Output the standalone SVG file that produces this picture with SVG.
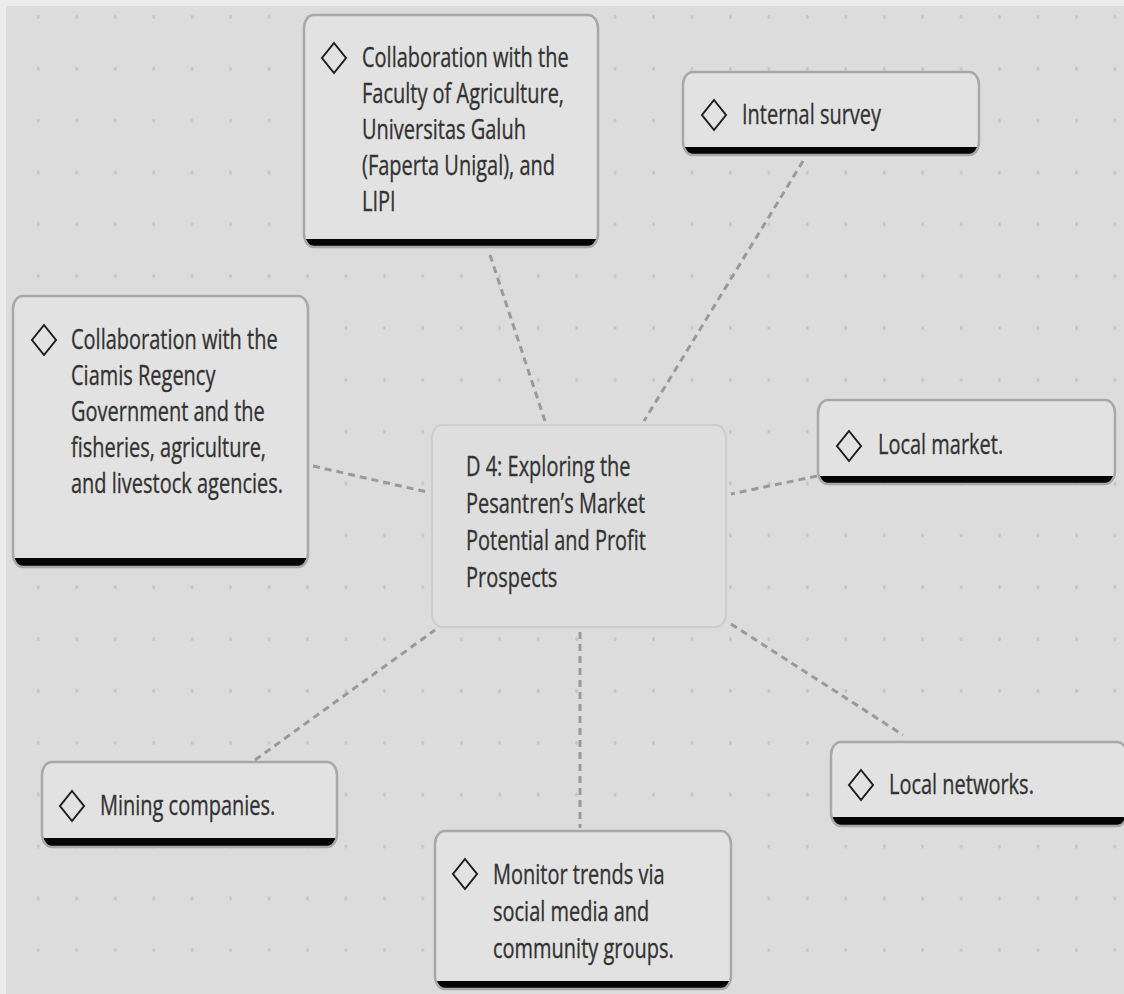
<svg xmlns="http://www.w3.org/2000/svg" xmlns:xlink="http://www.w3.org/1999/xlink" width="1124" height="994" viewBox="0 0 1124 994">
  <style>
    .canvas-edge { fill: #ececec; }
    .canvas { fill: #dcdcdc; }
    .dot { fill: #c3c3c3; }
    .link { stroke: #9a9a9a; stroke-width: 3; stroke-dasharray: 7 5; fill: none; }
    .box-base { fill: #050505; }
    .box-face { fill: #e2e2e2; }
    .box-edge { fill: none; stroke: #a8a8a8; stroke-width: 2.5; }
    .hub-face { fill: #dedede; stroke: #cdcdcd; stroke-width: 2; }
    .mark { fill: none; stroke: #1e1e1e; stroke-width: 2; stroke-linejoin: miter; }
    .label { font-family: "Open Sans", "Noto Sans", "DejaVu Sans", sans-serif; font-size: 27px; fill: #333333; stroke: #333333; stroke-width: 0.35; }
  </style>
  <defs>
    <pattern id="dots" patternUnits="userSpaceOnUse" x="19.1" y="-9" width="38.45" height="51.85">
      <ellipse class="dot" cx="19.22" cy="25.9" rx="1.4" ry="2"/>
    </pattern>
    <polygon id="diamond" class="mark" points="0,-15 12,0 0,15 -12,0"/>
  </defs>

  <!-- canvas -->
  <rect class="canvas-edge" x="0" y="0" width="1124" height="994"/>
  <rect class="canvas" x="6" y="6" width="1118" height="988"/>
  <rect x="6" y="6" width="1118" height="988" fill="url(#dots)"/>

  <!-- connectors -->
  <g id="connectors">
    <line class="link" x1="490" y1="255" x2="545" y2="421"/>
    <line class="link" x1="803" y1="161" x2="644" y2="421"/>
    <line class="link" x1="313" y1="466" x2="427" y2="492"/>
    <line class="link" x1="817" y1="476" x2="731" y2="494"/>
    <line class="link" x1="731" y1="624" x2="903" y2="735"/>
    <line class="link" x1="255" y1="760" x2="435" y2="630"/>
    <line class="link" x1="580" y1="632" x2="580" y2="828"/>
  </g>

  <!-- central topic -->
  <g id="hub">
    <rect class="hub-face" x="432" y="425" width="294" height="202" rx="10" ry="13"/>
    <g transform="translate(466,0) scale(0.74,1)">
      <text class="label">
        <tspan x="0" y="476">D 4: Exploring the</tspan>
        <tspan x="0" y="513">Pesantren’s Market</tspan>
        <tspan x="0" y="550">Potential and Profit</tspan>
        <tspan x="0" y="587">Prospects</tspan>
      </text>
    </g>
  </g>

  <!-- Faculty of Agriculture collaboration -->
  <g id="node-faperta">
    <rect class="box-base" x="304" y="15" width="294" height="232" rx="10" ry="13"/>
    <path class="box-face" d="M304,239 V28 A10,13 0 0 1 314,15 H588 A10,13 0 0 1 598,28 V239 Z"/>
    <rect class="box-edge" x="304" y="15" width="294" height="232" rx="10" ry="13"/>
    <use xlink:href="#diamond" x="334" y="58"/>
    <g transform="translate(362,0) scale(0.74,1)">
      <text class="label">
        <tspan x="0" y="67">Collaboration with the</tspan>
        <tspan x="0" y="103">Faculty of Agriculture,</tspan>
        <tspan x="0" y="139">Universitas Galuh</tspan>
        <tspan x="0" y="175">(Faperta Unigal), and</tspan>
        <tspan x="0" y="211">LIPI</tspan>
      </text>
    </g>
  </g>

  <!-- Internal survey -->
  <g id="node-survey">
    <rect class="box-base" x="683" y="72" width="296" height="83" rx="10" ry="13"/>
    <path class="box-face" d="M683,147 V85 A10,13 0 0 1 693,72 H969 A10,13 0 0 1 979,85 V147 Z"/>
    <rect class="box-edge" x="683" y="72" width="296" height="83" rx="10" ry="13"/>
    <use xlink:href="#diamond" x="714" y="115"/>
    <g transform="translate(742,0) scale(0.74,1)">
      <text class="label"><tspan x="0" y="124">Internal survey</tspan></text>
    </g>
  </g>

  <!-- Regency government collaboration -->
  <g id="node-regency">
    <rect class="box-base" x="13" y="296" width="295" height="271" rx="10" ry="13"/>
    <path class="box-face" d="M13,558 V309 A10,13 0 0 1 23,296 H298 A10,13 0 0 1 308,309 V558 Z"/>
    <rect class="box-edge" x="13" y="296" width="295" height="271" rx="10" ry="13"/>
    <use xlink:href="#diamond" x="44" y="340"/>
    <g transform="translate(71,0) scale(0.74,1)">
      <text class="label">
        <tspan x="0" y="349">Collaboration with the</tspan>
        <tspan x="0" y="385">Ciamis Regency</tspan>
        <tspan x="0" y="421">Government and the</tspan>
        <tspan x="0" y="457">fisheries, agriculture,</tspan>
        <tspan x="0" y="493">and livestock agencies.</tspan>
      </text>
    </g>
  </g>

  <!-- Local market -->
  <g id="node-market">
    <rect class="box-base" x="818" y="400" width="297" height="84" rx="10" ry="13"/>
    <path class="box-face" d="M818,476 V413 A10,13 0 0 1 828,400 H1105 A10,13 0 0 1 1115,413 V476 Z"/>
    <rect class="box-edge" x="818" y="400" width="297" height="84" rx="10" ry="13"/>
    <use xlink:href="#diamond" x="849" y="446"/>
    <g transform="translate(878,0) scale(0.74,1)">
      <text class="label"><tspan x="0" y="454">Local market.</tspan></text>
    </g>
  </g>

  <!-- Local networks -->
  <g id="node-networks">
    <rect class="box-base" x="831" y="742" width="296" height="84" rx="10" ry="13"/>
    <path class="box-face" d="M831,817 V755 A10,13 0 0 1 841,742 H1117 A10,13 0 0 1 1127,755 V817 Z"/>
    <rect class="box-edge" x="831" y="742" width="296" height="84" rx="10" ry="13"/>
    <use xlink:href="#diamond" x="861" y="785"/>
    <g transform="translate(889,0) scale(0.74,1)">
      <text class="label"><tspan x="0" y="794">Local networks.</tspan></text>
    </g>
  </g>

  <!-- Mining companies -->
  <g id="node-mining">
    <rect class="box-base" x="42" y="762" width="295" height="85" rx="10" ry="13"/>
    <path class="box-face" d="M42,838 V775 A10,13 0 0 1 52,762 H327 A10,13 0 0 1 337,775 V838 Z"/>
    <rect class="box-edge" x="42" y="762" width="295" height="85" rx="10" ry="13"/>
    <use xlink:href="#diamond" x="72" y="806"/>
    <g transform="translate(100,0) scale(0.74,1)">
      <text class="label"><tspan x="0" y="815">Mining companies.</tspan></text>
    </g>
  </g>

  <!-- Social media monitoring -->
  <g id="node-monitor">
    <rect class="box-base" x="435" y="831" width="296" height="158" rx="10" ry="13"/>
    <path class="box-face" d="M435,981 V844 A10,13 0 0 1 445,831 H721 A10,13 0 0 1 731,844 V981 Z"/>
    <rect class="box-edge" x="435" y="831" width="296" height="158" rx="10" ry="13"/>
    <use xlink:href="#diamond" x="465" y="874"/>
    <g transform="translate(493,0) scale(0.74,1)">
      <text class="label">
        <tspan x="0" y="884">Monitor trends via</tspan>
        <tspan x="0" y="921">social media and</tspan>
        <tspan x="0" y="958">community groups.</tspan>
      </text>
    </g>
  </g>
</svg>
